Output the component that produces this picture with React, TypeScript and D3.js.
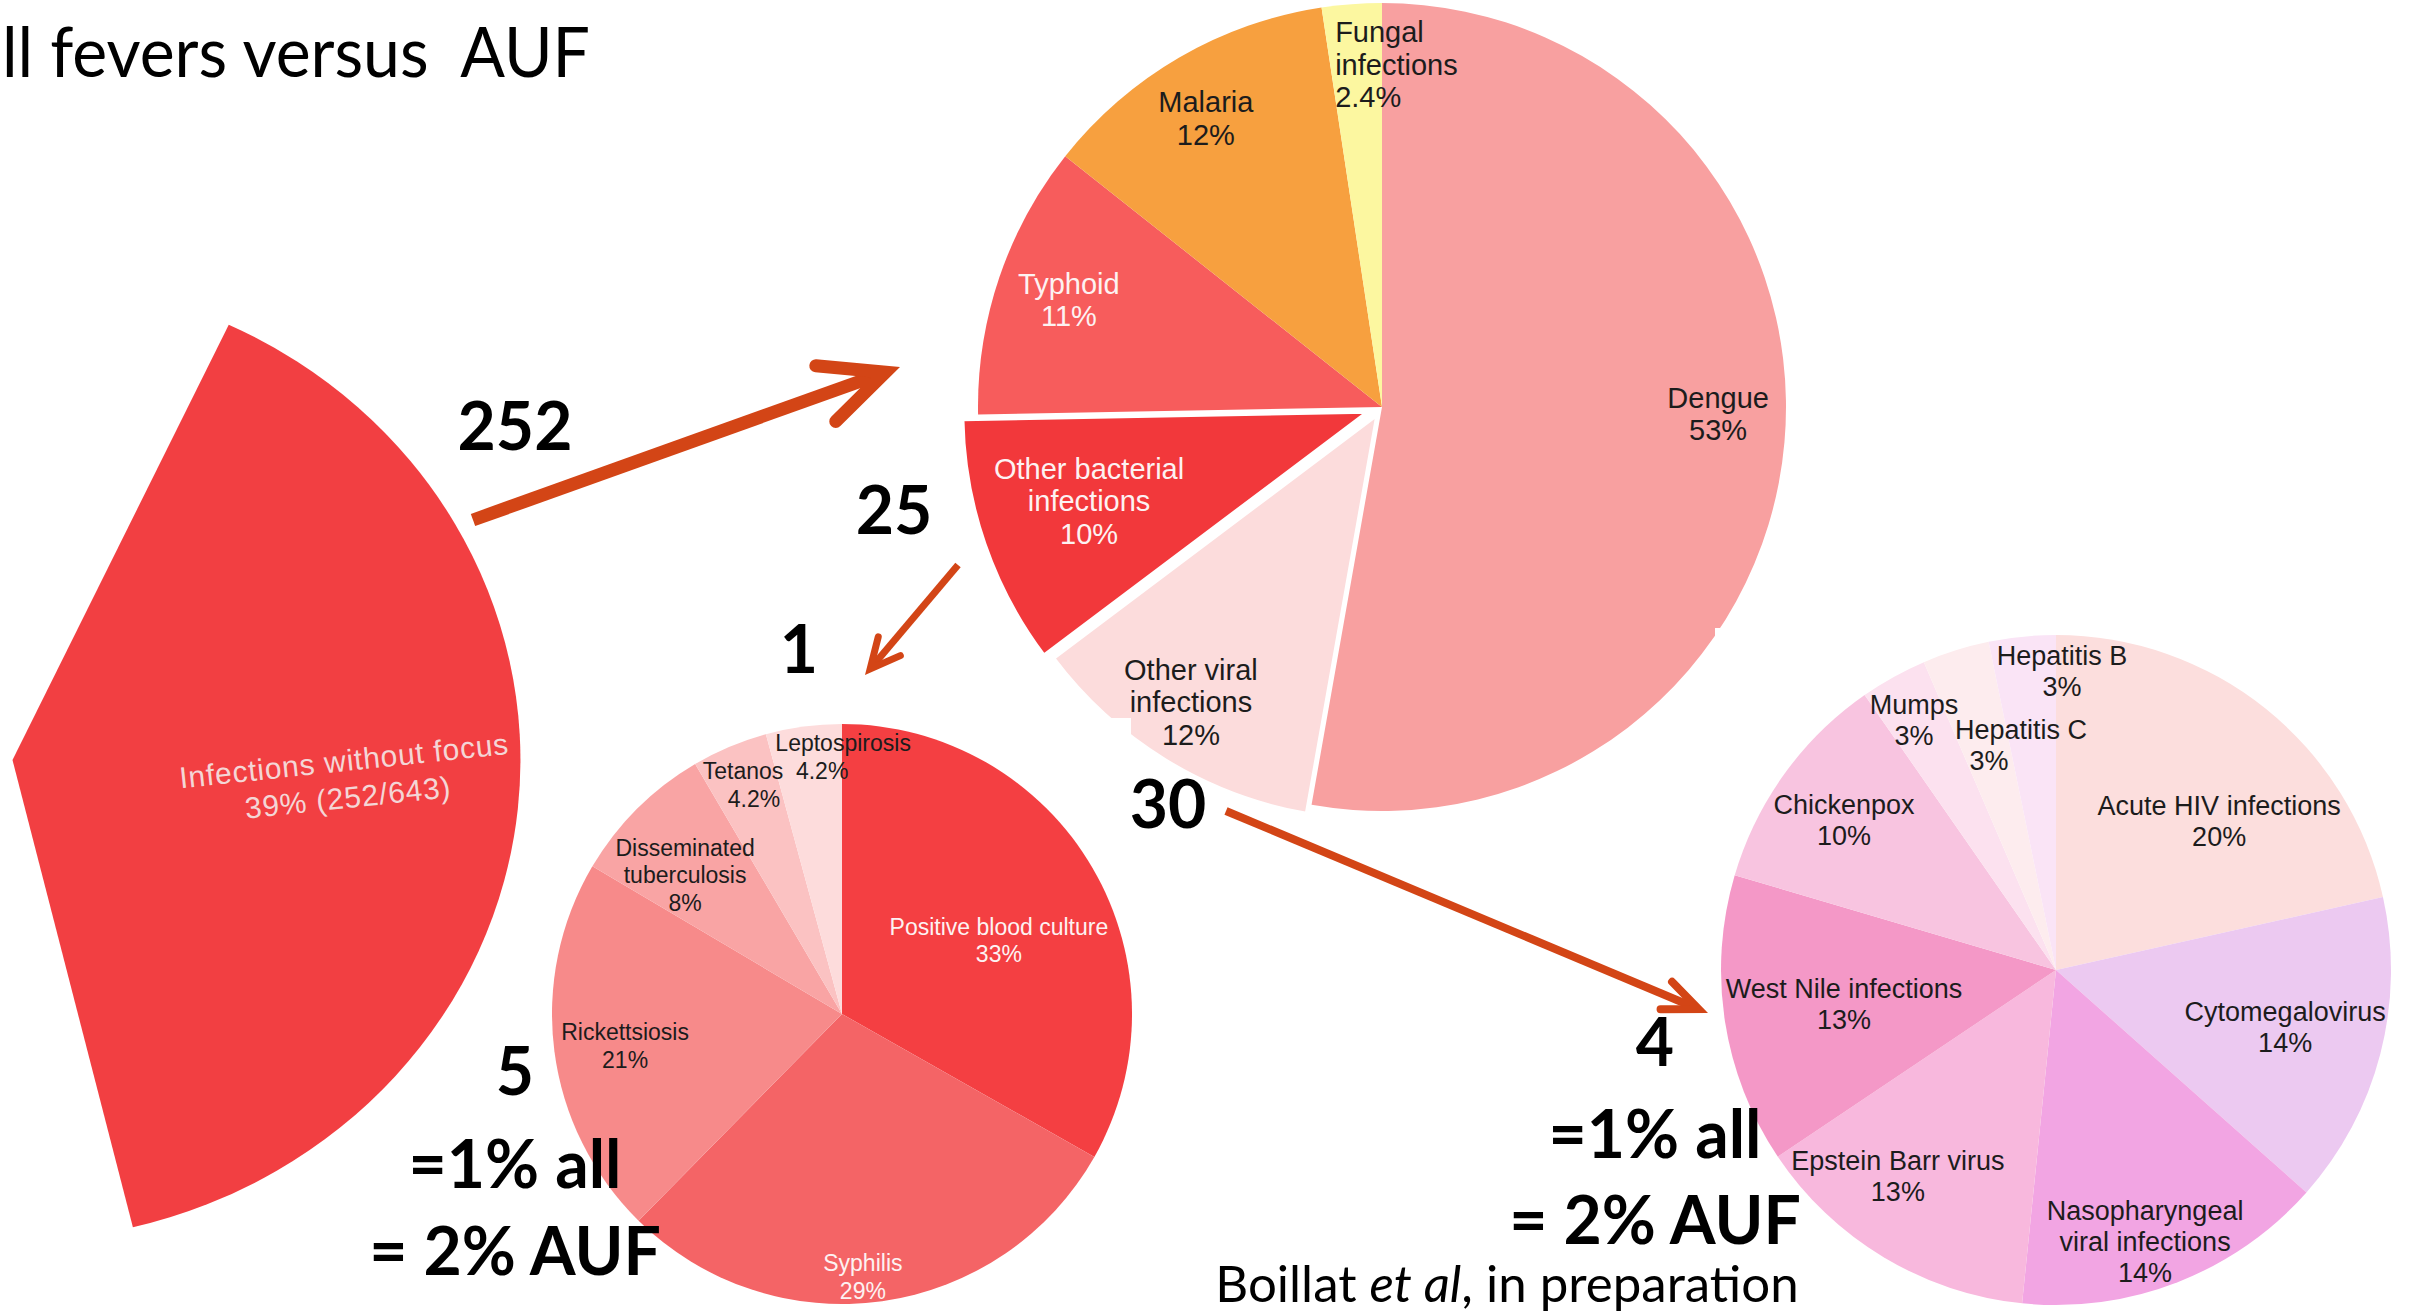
import React from 'react';
import * as d3 from 'd3';

// ---------------- DATA ----------------
const allFeverCount = 643;
const withoutFocusCount = 252;
const withoutFocusLabel = 'Infections without focus';

const aufCategories = ['Dengue', 'Other viral infections', 'Other bacterial infections', 'Typhoid', 'Malaria', 'Fungal infections'];
const aufValues = [53, 12, 10, 11, 12, 2.4];

const bactCategories = ['Positive blood culture', 'Syphilis', 'Rickettsiosis', 'Disseminated tuberculosis', 'Tetanos', 'Leptospirosis'];
const bactValues = [33, 29, 21, 8, 4.2, 4.2];

const viralCategories = ['Acute HIV infections', 'Cytomegalovirus', 'Nasopharyngeal viral infections', 'Epstein Barr virus', 'West Nile infections', 'Chickenpox', 'Mumps', 'Hepatitis C', 'Hepatitis B'];
const viralValues = [20, 14, 14, 13, 13, 10, 3, 3, 3];

const flowCounts = ['252', '25', '1', '30', '5', '4'];
const shareLines = ['=1% all', '= 2% AUF'];
const titleText = 'll fevers versus  AUF';

// ---------------- STYLE / LAYOUT ----------------
const W = 2409, H = 1314;
const FONT_LABEL = "'Liberation Sans', Arial, Helvetica, sans-serif";
const FONT_SLIDE = "Lato, 'Open Sans', sans-serif";
const DARK = '#1c1c1c';
const LIGHT = '#fdf2f2';
const ARROW = '#d34516';

const wedgeStyle = { cx: 12.5, cy: 760, r: 481, sx: 1.056, startDeg: 25.2, color: '#f23f42' };

const aufStyle = {
  cx: 1382, cy: 407, r: 404, fs: 29, lh: 32.5,
  colors: ['#f8a0a0', '#fcdcdc', '#f2383b', '#f75c5c', '#f7a03f', '#fcf7a0'],
  pos: [[0.832, 0.017], [-0.473, 0.73], [-0.725, 0.233], [-0.775, -0.265], [-0.436, -0.715], [-0.116, -0.848]],
  wrap: [[1], [2, 1], [2, 1], [1], [1], [1, 1]],
  explode: [0, 10, 16, 0, 0, 0],
  text: [DARK, DARK, LIGHT, LIGHT, DARK, DARK],
  anchor: ['middle', 'middle', 'middle', 'middle', 'middle', 'start'],
  dxs: [null, null, null, null, null, null] as (number[] | null)[],
};

const bactStyle = {
  cx: 842, cy: 1014, r: 290, fs: 23, lh: 27.5,
  colors: ['#f43f42', '#f46466', '#f78a8a', '#f9a4a4', '#fbc2c2', '#fddcdc'],
  pos: [[0.541, -0.253], [0.072, 0.907], [-0.748, 0.11], [-0.541, -0.478], [-0.324, -0.789], [-0.034, -0.886]],
  wrap: [[3], [1], [1], [1, 1], [1], [1]],
  explode: [0, 0, 0, 0, 0, 0],
  text: [LIGHT, LIGHT, DARK, DARK, DARK, DARK],
  anchor: ['middle', 'middle', 'middle', 'middle', 'middle', 'middle'],
  dxs: [null, null, null, null, [-5, 6], [11, -10]] as (number[] | null)[],
};

const viralStyle = {
  cx: 2056, cy: 970, r: 335, fs: 27, lh: 31,
  colors: ['#fcdedd', '#ecc9f1', '#f2a5e3', '#f8b8dd', '#f498c7', '#f8c4e0', '#fce1ef', '#fdecee', '#fae4f6'],
  pos: [[0.487, -0.445], [0.684, 0.17], [0.266, 0.812], [-0.472, 0.615], [-0.633, 0.101], [-0.633, -0.448], [-0.424, -0.746], [-0.152, -0.672], [0.018, -0.893]],
  wrap: [[3], [1], [1, 2], [3], [3], [1], [1], [2], [2]],
  explode: [0, 0, 0, 0, 0, 0, 0, 0, 0],
  text: Array(9).fill(DARK),
  anchor: Array(9).fill('middle'),
  dxs: [null, null, null, null, null, null, null, [16, -16], null] as (number[] | null)[],
};

// "to" is the outer tip of the arrowhead
const arrows = [
  { from: [473, 520], to: [900, 367], w: 13, head: 70, ang: 25 },
  { from: [958, 565], to: [865, 675], w: 7, head: 33, ang: 26 },
  { from: [1226, 811], to: [1708, 1013], w: 8, head: 38, ang: 23 },
];

const countPos = [[515, 450], [894, 534], [799, 673], [1168, 828], [515, 1095], [1655, 1066]];
const shareGroups = [{ x: 515, ys: [1188, 1275] }, { x: 1655, ys: [1158, 1244] }];

// ---------------- HELPERS ----------------
function wrapWords(name: string, wrap: number[]): string[] {
  const words = name.split(' ');
  const out: string[] = [];
  let i = 0;
  for (const n of wrap) {
    out.push(words.slice(i, i + n).join(' '));
    i += n;
  }
  return out;
}

function MultiLine({ x, y, lines, fs, lh, fill, anchor, dxs, family, extra }: any) {
  const n = lines.length;
  return (
    <text fontFamily={family || FONT_LABEL} fontSize={fs} fill={fill} textAnchor={anchor} {...(extra || {})}>
      {lines.map((t: string, i: number) => (
        <tspan key={i} x={x + (dxs ? dxs[i] || 0 : 0)} y={y + (i - (n - 1) / 2) * lh + 0.35 * fs}>
          {t}
        </tspan>
      ))}
    </text>
  );
}

function PieChart({ cats, vals, st }: any) {
  const pie = d3.pie<number>().sort(null).value((d) => d);
  const arcs = pie(vals);
  const arc = d3.arc<d3.PieArcDatum<number>>().innerRadius(0).outerRadius(st.r);
  return (
    <g>
      <g transform={`translate(${st.cx},${st.cy})`}>
        {arcs.map((a, i) => {
          const mid = (a.startAngle + a.endAngle) / 2;
          const e = st.explode[i];
          const dx = Math.sin(mid) * e;
          const dy = -Math.cos(mid) * e;
          return (
            <path
              key={i}
              d={arc(a) || ''}
              transform={`translate(${dx},${dy})`}
              fill={st.colors[i]}
              stroke={e > 0 ? '#ffffff' : 'none'}
              strokeWidth={e > 0 ? 3 : 0}
              strokeLinejoin="round"
            />
          );
        })}
      </g>
      {arcs.map((a, i) => {
        const lines = [...wrapWords(cats[i], st.wrap[i]), `${vals[i]}%`];
        return (
          <MultiLine
            key={'l' + i}
            x={st.cx + st.pos[i][0] * st.r}
            y={st.cy + st.pos[i][1] * st.r}
            lines={lines}
            fs={st.fs}
            lh={st.lh}
            fill={st.text[i]}
            anchor={st.anchor[i]}
            dxs={st.dxs[i]}
          />
        );
      })}
    </g>
  );
}

function Arrow({ a }: any) {
  const [x1, y1] = a.from;
  const back = Math.atan2(y1 - a.to[1], x1 - a.to[0]);
  const t = (a.ang * Math.PI) / 180;
  const ux = Math.cos(back), uy = Math.sin(back);
  const inset = a.w / 2 / Math.sin(t);
  const x2 = a.to[0] + ux * inset;
  const y2 = a.to[1] + uy * inset;
  const p1: [number, number] = [x2 + Math.cos(back + t) * a.head, y2 + Math.sin(back + t) * a.head];
  const p2: [number, number] = [x2 + Math.cos(back - t) * a.head, y2 + Math.sin(back - t) * a.head];
  const shaftEnd: [number, number] = [x2 + ux * a.w * 0.6, y2 + uy * a.w * 0.6];
  const line = d3.line();
  return (
    <g fill="none" stroke={ARROW} strokeWidth={a.w}>
      <path d={line([[x1, y1], shaftEnd]) || ''} strokeLinecap="butt" />
      <path d={line([p1, [x2, y2], p2]) || ''} strokeLinecap="round" strokeLinejoin="miter" strokeMiterlimit={10} />
    </g>
  );
}

// ---------------- APP ----------------
export default function App() {
  const startA = (wedgeStyle.startDeg * Math.PI) / 180;
  const wedgePie = d3.pie<number>().sort(null).value((d) => d).startAngle(startA).endAngle(startA + 2 * Math.PI);
  const wedgeArcs = wedgePie([withoutFocusCount, allFeverCount - withoutFocusCount]);
  const wedgeArc = d3.arc<d3.PieArcDatum<number>>().innerRadius(0).outerRadius(wedgeStyle.r);
  const pct = Math.round((withoutFocusCount / allFeverCount) * 100);

  return (
    <svg
      width={W}
      height={H}
      viewBox={`0 0 ${W} ${H}`}
      style={{ position: 'absolute', left: 0, top: 0, background: '#ffffff', display: 'block' }}
    >
      <rect x={0} y={0} width={W} height={H} fill="#ffffff" />

      {/* big wedge */}
      <g transform={`translate(${wedgeStyle.cx},${wedgeStyle.cy}) scale(${wedgeStyle.sx},1)`}>
        <path d={wedgeArc(wedgeArcs[0]) || ''} fill={wedgeStyle.color} />
      </g>
      <g transform="rotate(-6, 346, 779)">
        <MultiLine
          x={346}
          y={779}
          lines={[withoutFocusLabel, `${pct}% (${withoutFocusCount}/${allFeverCount})`]}
          fs={30}
          lh={37}
          fill="#f4d6d6"
          anchor="middle"
          extra={{ letterSpacing: 0.8 }}
        />
      </g>

      {/* AUF etiologies */}
      <PieChart cats={aufCategories} vals={aufValues} st={aufStyle} />

      {/* white backgrounds of the overlapping sub-chart pictures */}
      <rect x={545} y={718} width={1131 - 545} height={H - 718} fill="#ffffff" />
      <rect x={1715} y={628} width={W - 1715} height={H - 628} fill="#ffffff" />

      <PieChart cats={bactCategories} vals={bactValues} st={bactStyle} />
      <PieChart cats={viralCategories} vals={viralValues} st={viralStyle} />

      {arrows.map((a, i) => (
        <Arrow key={i} a={a} />
      ))}

      {/* title */}
      <text x={2} y={77} fontFamily={FONT_SLIDE} fontSize={69} textLength={588} lengthAdjust="spacingAndGlyphs" fill="#000" style={{ whiteSpace: 'pre' }}>
        {titleText}
      </text>

      {/* counts */}
      {flowCounts.map((c, i) => (
        <text key={i} x={countPos[i][0]} y={countPos[i][1]} fontFamily={FONT_SLIDE} fontWeight={700} fontSize={66} textAnchor="middle" fill="#000">
          {c}
        </text>
      ))}
      {shareGroups.map((g, gi) =>
        shareLines.map((s, i) => (
          <text key={gi + '-' + i} x={g.x} y={g.ys[i]} fontFamily={FONT_SLIDE} fontWeight={700} fontSize={66} textAnchor="middle" fill="#000" style={{ whiteSpace: 'pre' }}>
            {s}
          </text>
        ))
      )}

      {/* citation */}
      <text x={1507} y={1302} fontFamily={FONT_SLIDE} fontSize={51} textAnchor="middle" fill="#000">
        Boillat <tspan fontStyle="italic">et al</tspan>, in preparation
      </text>
    </svg>
  );
}
